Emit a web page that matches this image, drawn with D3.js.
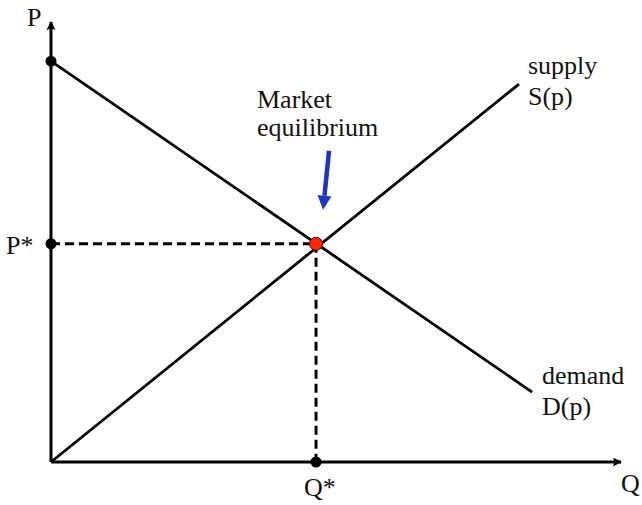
<!DOCTYPE html>
<html>
<head>
<meta charset="utf-8">
<script src="https://cdn.jsdelivr.net/npm/d3@7"></script>
<style>
  body { margin: 0; background: #fff; }
</style>
</head>
<body>
<script>
// curves in chart units (Q along x, P along y)
var demand = [ [0, 91.1], [84.4, 15.9] ];
var supply = [ [0, 0], [82.1, 85.9] ];
var equilibrium = [46.5, 49.6];
var axisEnds = { q: 100, p: 100 };

var w = 642, h = 505;

var x = d3.scaleLinear().domain([0, 100]).range([51, 621]);
var y = d3.scaleLinear().domain([0, 100]).range([462, 22]);

var svg = d3.select("body").append("svg")
    .attr("width", w)
    .attr("height", h);

var defs = svg.append("defs");
defs.append("marker")
    .attr("id", "axArrow")
    .attr("viewBox", "0 0 10 10")
    .attr("refX", 9).attr("refY", 5)
    .attr("markerWidth", 3.4).attr("markerHeight", 3)
    .attr("markerUnits", "strokeWidth")
    .attr("orient", "auto")
    .append("path")
    .attr("d", "M0,0 L10,5 L0,10 L2,5 Z")
    .attr("fill", "#000");

var line = d3.line()
    .x(function(d) { return x(d[0]); })
    .y(function(d) { return y(d[1]); });

// dashed guides
svg.append("path")
    .attr("d", line([[0, equilibrium[1]], equilibrium]))
    .attr("stroke", "#000").attr("stroke-width", 3)
    .attr("stroke-dasharray", "9,5").attr("fill", "none");
svg.append("path")
    .attr("d", line([equilibrium, [equilibrium[0], 0]]))
    .attr("stroke", "#000").attr("stroke-width", 3)
    .attr("stroke-dasharray", "9,5").attr("fill", "none");

// axes
svg.append("path")
    .attr("d", line([[0, 0], [0, axisEnds.p]]))
    .attr("stroke", "#000").attr("stroke-width", 3)
    .attr("marker-end", "url(#axArrow)");
svg.append("path")
    .attr("d", line([[0, 0], [axisEnds.q, 0]]))
    .attr("stroke", "#000").attr("stroke-width", 3)
    .attr("marker-end", "url(#axArrow)");

// demand & supply
[demand, supply].forEach(function(c) {
    svg.append("path")
        .attr("d", line(c))
        .attr("stroke", "#000").attr("stroke-width", 2.8)
        .attr("fill", "none");
});

// black dots
var dots = [ [0, demand[0][1]], [0, equilibrium[1]], [equilibrium[0], 0] ];
svg.selectAll("circle.pt")
    .data(dots)
    .enter()
    .append("circle")
    .attr("class", "pt")
    .attr("cx", function(d) { return x(d[0]); })
    .attr("cy", function(d) { return y(d[1]); })
    .attr("r", 5.5)
    .attr("fill", "#000");

// equilibrium
svg.append("circle")
    .attr("cx", x(equilibrium[0]))
    .attr("cy", y(equilibrium[1]))
    .attr("r", 6.5)
    .attr("fill", "#ff2a00")
    .attr("stroke", "#600").attr("stroke-width", 1);

// blue arrow pointing to equilibrium
var ax0 = x(equilibrium[0]) + 13, ay0 = y(equilibrium[1]) - 93;
var ax1 = x(equilibrium[0]) + 7, ay1 = y(equilibrium[1]) - 34;
var ang = Math.atan2(ay1 - ay0, ax1 - ax0);
var headL = 14, headW = 7;
var bx = ax1 - headL * Math.cos(ang), by = ay1 - headL * Math.sin(ang);
svg.append("line")
    .attr("x1", ax0).attr("y1", ay0)
    .attr("x2", bx).attr("y2", by)
    .attr("stroke", "#1f33c4").attr("stroke-width", 4.5);
svg.append("path")
    .attr("d", "M" + ax1 + "," + ay1 +
        "L" + (bx + headW * Math.sin(ang)) + "," + (by - headW * Math.cos(ang)) +
        "L" + (bx - headW * Math.sin(ang)) + "," + (by + headW * Math.cos(ang)) + "Z")
    .attr("fill", "#1f33c4");

// labels
var labels = [
    { t: "P", x: 27, y: 26 },
    { t: "P*", x: 6, y: 254 },
    { t: "Q*", x: 304, y: 496 },
    { t: "Q", x: 621, y: 492 },
    { t: "Market", x: 257, y: 108 },
    { t: "equilibrium", x: 257, y: 136 },
    { t: "supply", x: 528, y: 74 },
    { t: "S(p)", x: 528, y: 105 },
    { t: "demand", x: 542, y: 384 },
    { t: "D(p)", x: 542, y: 415 }
];
svg.selectAll("text")
    .data(labels)
    .enter()
    .append("text")
    .attr("x", function(d) { return d.x; })
    .attr("y", function(d) { return d.y; })
    .attr("font-family", "'Liberation Serif', 'Times New Roman', serif")
    .attr("font-size", 26)
    .attr("fill", "#111")
    .text(function(d) { return d.t; });
</script>
</body>
</html>
